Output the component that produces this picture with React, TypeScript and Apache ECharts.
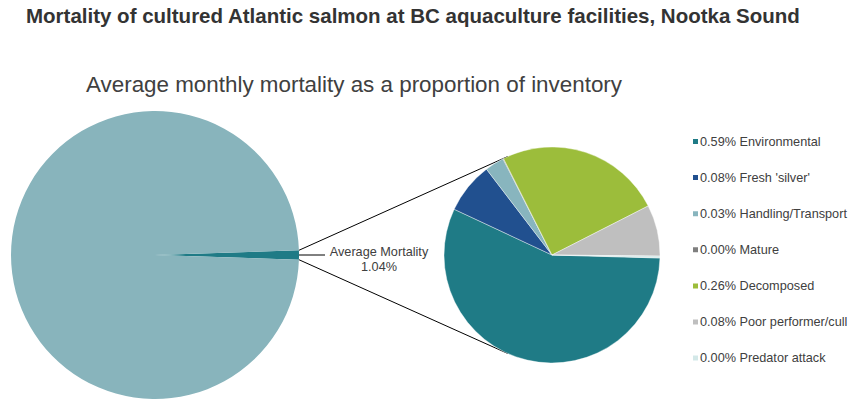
import React, { useEffect, useRef } from "react";
import * as echarts from "echarts";

// ---- Data ----
const categories = [
  "Environmental",
  "Fresh 'silver'",
  "Handling/Transport",
  "Mature",
  "Decomposed",
  "Poor performer/cull",
  "Predator attack",
];
// average monthly mortality (% of inventory) by cause
const causeValues = [0.59, 0.08, 0.03, 0.001, 0.26, 0.08, 0.003];
const causeColors = ["#1F7B86", "#21508F", "#88B5BE", "#7F7F7F", "#9CBD3B", "#BFBFBF", "#D3E8E8"];

const overviewNames = ["Average Mortality", "Surviving inventory"];
const overviewValues = [1.04, 98.96];
const overviewColors = ["#1F7B86", "#88B4BC"];

const titleText = "Mortality of cultured Atlantic salmon at BC aquaculture facilities, Nootka Sound";
const subtitleText = "Average monthly mortality as a proportion of inventory";

// ---- Layout ----
const W = 856;
const H = 406;
const LEFT_C = [155, 255];
const LEFT_R = 144;
const RIGHT_C = [552, 255];
const RIGHT_R = 108;
const FONT = "'Liberation Sans', Arial, Helvetica, sans-serif";
const TXT = "#404040";

function tangentPoint(px: number, py: number, upper: boolean) {
  const dx = px - RIGHT_C[0];
  const dy = py - RIGHT_C[1];
  const d = Math.sqrt(dx * dx + dy * dy);
  const phi = Math.atan2(dy, dx);
  const a = Math.acos(RIGHT_R / d);
  const t1 = phi + a;
  const t2 = phi - a;
  const p1 = [RIGHT_C[0] + RIGHT_R * Math.cos(t1), RIGHT_C[1] + RIGHT_R * Math.sin(t1)];
  const p2 = [RIGHT_C[0] + RIGHT_R * Math.cos(t2), RIGHT_C[1] + RIGHT_R * Math.sin(t2)];
  if (upper) return p1[1] < p2[1] ? p1 : p2;
  return p1[1] > p2[1] ? p1 : p2;
}

export default function App() {
  const ref = useRef<HTMLDivElement>(null);
  useEffect(() => {
    document.body.style.margin = "0";
    if (!ref.current) return;
    const chart = echarts.init(ref.current, undefined, { renderer: "svg" });

    const total = overviewValues.reduce((a, b) => a + b, 0);
    const half = ((overviewValues[0] / total) * 360) / 2;
    const hr = (half * Math.PI) / 180;
    const up = [LEFT_C[0] + LEFT_R * Math.cos(hr), LEFT_C[1] - LEFT_R * Math.sin(hr)];
    const dn = [LEFT_C[0] + LEFT_R * Math.cos(hr), LEFT_C[1] + LEFT_R * Math.sin(hr)];
    const tUp = tangentPoint(up[0], up[1], true);
    const tDn = tangentPoint(dn[0], dn[1], false);

    const valueByName: Record<string, number> = {};
    categories.forEach((c, i) => (valueByName[c] = causeValues[i]));

    chart.setOption({
      animation: false,
      backgroundColor: "#ffffff",
      title: [
        {
          text: titleText,
          left: 21,
          top: 0,
          textStyle: { fontFamily: FONT, fontSize: 20.5, fontWeight: "bold", color: "#333333" },
        },
        {
          text: subtitleText,
          left: 81,
          top: 68,
          textStyle: { fontFamily: FONT, fontSize: 22.4, fontWeight: "normal", color: TXT },
        },
      ],
      legend: {
        data: categories,
        orient: "vertical",
        left: 686,
        top: 130,
        itemWidth: 7,
        itemHeight: 7,
        itemGap: 23.1,
        icon: "rect",
        selectedMode: false,
        textStyle: { fontFamily: FONT, fontSize: 12.7, color: TXT, padding: [0, 0, 0, -4] },
        formatter: (name: string) => `${valueByName[name].toFixed(2)}% ${name}`,
      },
      graphic: [
        {
          type: "line",
          silent: true,
          shape: { x1: up[0], y1: up[1], x2: tUp[0], y2: tUp[1] },
          style: { stroke: "#000000", lineWidth: 1 },
        },
        {
          type: "line",
          silent: true,
          shape: { x1: dn[0], y1: dn[1], x2: tDn[0], y2: tDn[1] },
          style: { stroke: "#000000", lineWidth: 1 },
        },
      ],
      series: [
        {
          type: "pie",
          name: "overview",
          center: LEFT_C,
          radius: LEFT_R,
          startAngle: half,
          clockwise: true,
          silent: true,
          emphasis: { disabled: true },
          itemStyle: { borderWidth: 0 },
          labelLine: {
            show: true,
            length: 10,
            length2: 16,
            smooth: false,
            lineStyle: { color: "#000000", width: 1 },
          },
          label: {
            show: true,
            position: "outside",
            distanceToLabelLine: 2,
            fontFamily: FONT,
            fontSize: 12.5,
            color: TXT,
            padding: [8, 0, 0, 0],
            formatter: (p: any) => `{a|${p.name}}\n{a|${p.value.toFixed(2)}%}`,
            rich: { a: { width: 104, align: "center", fontFamily: FONT, fontSize: 12.7, color: TXT, lineHeight: 15 } },
          },
          data: overviewNames.map((n, i) => ({
            name: n,
            value: overviewValues[i],
            itemStyle: { color: overviewColors[i] },
            label: i === 0 ? {} : { show: false },
            labelLine: i === 0 ? {} : { show: false },
          })),
        },
        {
          type: "pie",
          name: "causes",
          center: RIGHT_C,
          radius: RIGHT_R,
          startAngle: -1.6,
          clockwise: true,
          silent: true,
          emphasis: { disabled: true },
          label: { show: false },
          labelLine: { show: false },
          itemStyle: { borderColor: "#ffffff", borderWidth: 0.4 },
          data: categories.map((c, i) => ({
            name: c,
            value: causeValues[i],
            itemStyle: { color: causeColors[i] },
          })),
        },
      ],
    });
    return () => chart.dispose();
  }, []);
  return <div ref={ref} style={{ width: W, height: H }} />;
}
